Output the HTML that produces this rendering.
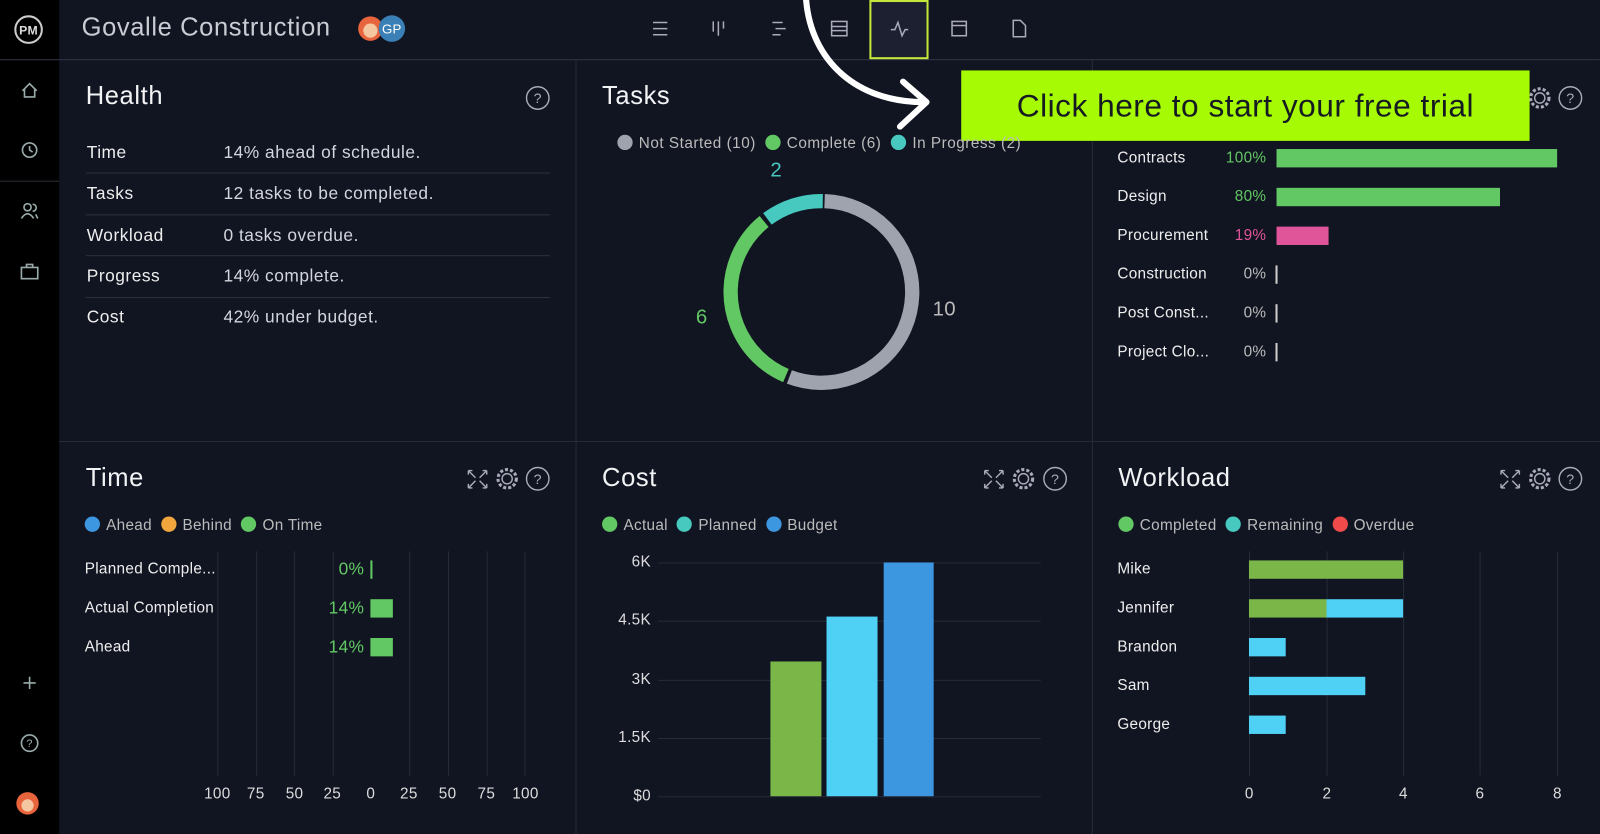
<!DOCTYPE html><html><head><style>
html,body{margin:0;padding:0;background:#111420;overflow:hidden;width:1600px;height:834px}
#w{position:absolute;left:0;top:0;width:1568px;height:817px;transform:scale(1.0204,1.0208);transform-origin:0 0;background:#111421;font-family:"Liberation Sans",sans-serif;color:#d3d6dd;letter-spacing:0.3px}
.a{position:absolute;white-space:nowrap}
.t{font-size:25px;color:#f2f3f5;letter-spacing:0.6px}
.s{font-size:15px}
.dot{display:inline-block;width:15px;height:15px;border-radius:50%;vertical-align:-2px;margin-right:6px}
.vl{position:absolute;width:1px;background:#262b38}
.hl{position:absolute;height:1px;background:#262b38}
.r{text-align:right}
</style></head><body><div id="w">
<div class="a" style="left:0;top:0;width:58px;height:817px;background:#000"></div>
<div class="hl" style="left:0;top:58px;width:1568px;background:#343846"></div>
<div class="hl" style="left:0;top:177px;width:58px;background:#2a2d36"></div>
<div class="vl" style="left:564px;top:59px;height:758px"></div>
<div class="vl" style="left:1070px;top:59px;height:758px"></div>
<div class="hl" style="left:58px;top:432px;width:1510px"></div>
<svg class="a" style="left:0;top:0" width="1568" height="817">
<circle cx="28" cy="29" r="13" fill="none" stroke="#ccc" stroke-width="2"/>
<text x="28" y="34" font-size="12" fill="#ddd" text-anchor="middle" font-family="Liberation Sans" font-weight="bold">PM</text>
<g stroke="#9aa" fill="none" stroke-width="1.6">
<path d="M22 89 L29 82 L36 89 M24 87 V95 H34 V87"/>
<circle cx="29" cy="147" r="7"/><path d="M29 143 V147 L32 149"/>
<circle cx="27" cy="203" r="3.5"/><path d="M21 214 Q27 205 33 214"/><path d="M32 200 A3 3 0 0 1 32 207 M35 210 L37 214"/>
<rect x="21" y="262" width="16" height="11"/><path d="M26 262 V259 H32 V262"/>
<path d="M29 663 V675 M23 669 H35"/>
<circle cx="29" cy="728" r="8"/>
</g>
<text x="29" y="732" font-size="11" fill="#9aa" text-anchor="middle">?</text>
<circle cx="27" cy="787" r="11" fill="#e8643c"/><circle cx="27" cy="789" r="6" fill="#f4c7a1"/>
<circle cx="363" cy="28" r="12" fill="#e8643c"/><circle cx="363" cy="30" r="7" fill="#f4c7a1"/>
<circle cx="384" cy="28" r="13" fill="#3a7fb5"/>
<text x="384" y="33" font-size="13" fill="#fff" text-anchor="middle">GP</text>
<rect x="853" y="1" width="56" height="56" fill="#1c2030" stroke="#c5e63a" stroke-width="2"/>
<g stroke="#aab" fill="none" stroke-width="1.5">
<path d="M640 22 H654 M640 28 H654 M640 34 H654"/>
<path d="M699 21 V31 M704 21 V35 M709 21 V28"/>
<path d="M757 22 H767 M760 28 H770 M757 34 H765"/>
<rect x="815" y="21" width="15" height="14"/><path d="M815 26 H830 M815 30 H830"/>
<path d="M873 29 H877 L880 22 L884 35 L887 29 H890"/>
<rect x="933" y="21" width="14" height="14"/><path d="M933 25 H947"/>
<path d="M993 20 H1000 L1005 25 V36 H993 Z"/>
</g>
<path d="M790 0 C795 60 840 100 905 100" stroke="#fff" stroke-width="6" fill="none" stroke-linecap="round"/>
<path d="M885 80 L908 100 L882 124" stroke="#fff" stroke-width="6" fill="none" stroke-linecap="round" stroke-linejoin="round"/>
<g fill="none" stroke-width="14">
<circle cx="805" cy="286" r="89" stroke="#9fa3ad" stroke-dasharray="308.5 1000" transform="rotate(-88 805 286)"/>
<circle cx="805" cy="286" r="89" stroke="#62c864" stroke-dasharray="183 1000" transform="rotate(113 805 286)"/>
<circle cx="805" cy="286" r="89" stroke="#47c9c0" stroke-dasharray="58 1000" transform="rotate(233.5 805 286)"/>
</g>
<g fill="none" stroke="#aab" stroke-width="1.4">
<circle cx="527" cy="96" r="11"/><circle cx="1539" cy="96" r="11"/>
<circle cx="527" cy="469" r="11"/><circle cx="1034" cy="469" r="11"/><circle cx="1539" cy="469" r="11"/>
<g stroke-dasharray="3 2" stroke-width="3"><circle cx="497" cy="469" r="9"/><circle cx="1003" cy="469" r="9"/><circle cx="1509" cy="469" r="9"/><circle cx="1509" cy="96" r="9"/></g>
<circle cx="497" cy="469" r="5"/><circle cx="1003" cy="469" r="5"/><circle cx="1509" cy="469" r="5"/><circle cx="1509" cy="96" r="5"/>
<path d="M459 461 L466 468 M477 461 L470 468 M459 478 L466 471 M477 478 L470 471 M459 461 h4 M459 461 v4 M477 461 h-4 M477 461 v4 M459 478 h4 M459 478 v-4 M477 478 h-4 M477 478 v-4"/>
<g transform="translate(506 0)"><path d="M459 461 L466 468 M477 461 L470 468 M459 478 L466 471 M477 478 L470 471 M459 461 h4 M459 461 v4 M477 461 h-4 M477 461 v4 M459 478 h4 M459 478 v-4 M477 478 h-4 M477 478 v-4"/></g>
<g transform="translate(1012 0)"><path d="M459 461 L466 468 M477 461 L470 468 M459 478 L466 471 M477 478 L470 471 M459 461 h4 M459 461 v4 M477 461 h-4 M477 461 v4 M459 478 h4 M459 478 v-4 M477 478 h-4 M477 478 v-4"/></g>
</g>
<g fill="#aab" font-size="14" text-anchor="middle"><text x="527" y="101">?</text><text x="1539" y="101">?</text><text x="527" y="474">?</text><text x="1034" y="474">?</text><text x="1539" y="474">?</text></g>
<g fill="#2c3140"><rect x="84" y="169" width="455" height="1"/><rect x="84" y="210" width="455" height="1"/><rect x="84" y="250" width="455" height="1"/><rect x="84" y="291" width="455" height="1"/></g>
<g fill="#262b38"><rect x="213" y="540" width="1" height="220"/><rect x="251" y="540" width="1" height="220"/><rect x="288" y="540" width="1" height="220"/><rect x="326" y="540" width="1" height="220"/><rect x="401" y="540" width="1" height="220"/><rect x="439" y="540" width="1" height="220"/><rect x="477" y="540" width="1" height="220"/><rect x="514" y="540" width="1" height="220"/>
<rect x="645" y="551" width="375" height="1"/><rect x="645" y="608" width="375" height="1"/><rect x="645" y="666" width="375" height="1"/><rect x="645" y="723" width="375" height="1"/><rect x="645" y="780" width="375" height="1"/>
<rect x="1224" y="540" width="1" height="220"/><rect x="1300" y="540" width="1" height="220"/><rect x="1375" y="540" width="1" height="220"/><rect x="1450" y="540" width="1" height="220"/><rect x="1526" y="540" width="1" height="220"/></g>
<rect x="363" y="549" width="2" height="18" fill="#62c864"/>
<rect x="363" y="587" width="22" height="18" fill="#62c864"/>
<rect x="363" y="625" width="22" height="18" fill="#62c864"/>
<rect x="755" y="648" width="50" height="132" fill="#7ab648"/>
<rect x="810" y="604" width="50" height="176" fill="#4fd0f5"/>
<rect x="866" y="551" width="49" height="229" fill="#3d96e0"/>
<rect x="1224" y="549" width="151" height="18" fill="#7ab648"/>
<rect x="1224" y="587" width="76" height="18" fill="#7ab648"/><rect x="1300" y="587" width="75" height="18" fill="#4fd0f5"/>
<rect x="1224" y="625" width="36" height="18" fill="#4fd0f5"/>
<rect x="1224" y="663" width="114" height="18" fill="#4fd0f5"/>
<rect x="1224" y="701" width="36" height="18" fill="#4fd0f5"/>
<rect x="1251" y="146" width="275" height="18" fill="#62c864"/>
<rect x="1251" y="184" width="219" height="18" fill="#62c864"/>
<rect x="1251" y="222" width="51" height="18" fill="#e0559a"/>
<g fill="#ccc"><rect x="1250" y="260" width="2" height="18"/><rect x="1250" y="298" width="2" height="18"/><rect x="1250" y="336" width="2" height="18"/></g>
</svg>
<div class="a" style="left:80px;top:13px;font-size:25px;color:#c9ccd3;letter-spacing:0.6px">Govalle Construction</div>
<div class="a" style="left:942px;top:69px;width:557px;height:69px;background:#a6fb04;color:#161a22;font-size:31px;line-height:69px;text-align:center;letter-spacing:0.5px">Click here to start your free trial</div>
<div class="a t" style="left:84px;top:80px">Health</div>
<div class="a t" style="left:590px;top:80px">Tasks</div>
<div class="a t" style="left:84px;top:454px">Time</div>
<div class="a t" style="left:590px;top:454px">Cost</div>
<div class="a t" style="left:1096px;top:454px">Workload</div>
<div style="font-size:17px;letter-spacing:0.5px">
<div class="a" style="left:85px;top:140px;color:#eee">Time</div><div class="a" style="left:219px;top:140px">14% ahead of schedule.</div>
<div class="a" style="left:85px;top:180px;color:#eee">Tasks</div><div class="a" style="left:219px;top:180px">12 tasks to be completed.</div>
<div class="a" style="left:85px;top:221px;color:#eee">Workload</div><div class="a" style="left:219px;top:221px">0 tasks overdue.</div>
<div class="a" style="left:85px;top:261px;color:#eee">Progress</div><div class="a" style="left:219px;top:261px">14% complete.</div>
<div class="a" style="left:85px;top:301px;color:#eee">Cost</div><div class="a" style="left:219px;top:301px">42% under budget.</div>
</div>
<div class="a s" style="left:605px;top:132px;color:#bbb;letter-spacing:0.5px"><span class="dot" style="background:#9fa3ad"></span>Not Started (10) &nbsp;<span class="dot" style="background:#62c864"></span>Complete (6) &nbsp;<span class="dot" style="background:#47c9c0"></span>In Progress (2)</div>
<div class="a" style="left:755px;top:156px;font-size:20px;color:#47c9c0">2</div>
<div class="a" style="left:682px;top:300px;font-size:20px;color:#62c864">6</div>
<div class="a" style="left:914px;top:292px;font-size:20px;color:#bbb">10</div>
<div class="s" style="color:#eee">
<div class="a" style="left:1095px;top:146px">Contracts</div><div class="a" style="left:1095px;top:184px">Design</div><div class="a" style="left:1095px;top:222px">Procurement</div><div class="a" style="left:1095px;top:260px">Construction</div><div class="a" style="left:1095px;top:298px">Post Const...</div><div class="a" style="left:1095px;top:336px">Project Clo...</div>
<div class="a r" style="left:1180px;width:61px;top:146px;color:#62c864">100%</div><div class="a r" style="left:1180px;width:61px;top:184px;color:#62c864">80%</div><div class="a r" style="left:1180px;width:61px;top:222px;color:#e0559a">19%</div><div class="a r" style="left:1180px;width:61px;top:260px;color:#bbb">0%</div><div class="a r" style="left:1180px;width:61px;top:298px;color:#bbb">0%</div><div class="a r" style="left:1180px;width:61px;top:336px;color:#bbb">0%</div>
<div class="a" style="left:83px;top:549px">Planned Comple...</div><div class="a" style="left:83px;top:587px">Actual Completion</div><div class="a" style="left:83px;top:625px">Ahead</div>
<div class="a" style="left:1095px;top:549px">Mike</div><div class="a" style="left:1095px;top:587px">Jennifer</div><div class="a" style="left:1095px;top:625px">Brandon</div><div class="a" style="left:1095px;top:663px">Sam</div><div class="a" style="left:1095px;top:701px">George</div>
</div>
<div style="font-size:17px;color:#62c864"><div class="a r" style="left:300px;width:57px;top:548px">0%</div><div class="a r" style="left:300px;width:57px;top:586px">14%</div><div class="a r" style="left:300px;width:57px;top:624px">14%</div></div>
<div class="a s" style="left:83px;top:506px;color:#bbb"><span class="dot" style="background:#3d96e0"></span>Ahead &nbsp;<span class="dot" style="background:#f0a63c"></span>Behind &nbsp;<span class="dot" style="background:#62c864"></span>On Time</div>
<div class="a s" style="left:590px;top:506px;color:#bbb"><span class="dot" style="background:#62c864"></span>Actual &nbsp;<span class="dot" style="background:#47c9c0"></span>Planned &nbsp;<span class="dot" style="background:#3d96e0"></span>Budget</div>
<div class="a s" style="left:1096px;top:506px;color:#bbb"><span class="dot" style="background:#62c864"></span>Completed &nbsp;<span class="dot" style="background:#47c9c0"></span>Remaining &nbsp;<span class="dot" style="background:#f04a4a"></span>Overdue</div>
<div class="s" style="color:#ddd">
<div class="a" style="left:200px;top:769px;width:330px">
<span class="a" style="left:0">100</span><span class="a" style="left:42px">75</span><span class="a" style="left:80px">50</span><span class="a" style="left:117px">25</span><span class="a" style="left:159px">0</span><span class="a" style="left:192px">25</span><span class="a" style="left:230px">50</span><span class="a" style="left:268px">75</span><span class="a" style="left:302px">100</span></div>
<div class="a r" style="left:590px;width:48px;top:542px">6K</div><div class="a r" style="left:590px;width:48px;top:599px">4.5K</div><div class="a r" style="left:590px;width:48px;top:657px">3K</div><div class="a r" style="left:590px;width:48px;top:714px">1.5K</div><div class="a r" style="left:590px;width:48px;top:771px">$0</div>
<div class="a" style="left:1220px;top:769px">0</div><div class="a" style="left:1296px;top:769px">2</div><div class="a" style="left:1371px;top:769px">4</div><div class="a" style="left:1446px;top:769px">6</div><div class="a" style="left:1522px;top:769px">8</div>
</div>
</div></body></html>
